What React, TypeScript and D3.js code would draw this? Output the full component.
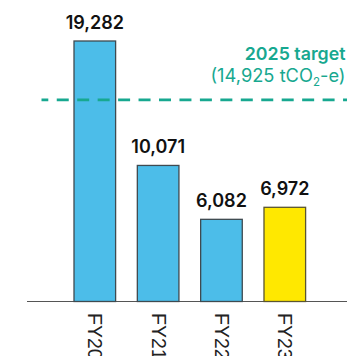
import React from "react";
import * as d3 from "d3";

const categories = ["FY20", "FY21", "FY22", "FY23"];
const values = [19282, 10071, 6082, 6972];
const highlight = ["FY23"];
const target = 14925;
const targetTitle = "2025 target";
const targetValueLabel = "14,925";

const W = 347;
const H = 356;
const baseline = 301.5;
const font = "Inter, 'Liberation Sans', Arial, sans-serif";
const axisFont = "'Liberation Sans', Arial, sans-serif";

export default function App() {
  const x = d3.scaleBand<string>().domain(categories).range([74, 305.6]).paddingInner(0.343).paddingOuter(0);
  const y = d3.scaleLinear().domain([0, 19282]).range([baseline, 41]);
  const fmt = d3.format(",");
  const teal = "#17a890";
  return (
    <svg width={W} height={H} style={{ position: "absolute", left: 0, top: 0 }}>
      <line x1={27} x2={W} y1={baseline} y2={baseline} stroke="#555" strokeWidth={1.2} />
      {categories.map((c, i) => {
        const isH = highlight.includes(c);
        const bx = x(c)!;
        return (
          <g key={c}>
            <rect
              x={bx}
              y={y(values[i])}
              width={x.bandwidth()}
              height={baseline - y(values[i])}
              fill={isH ? "#ffe800" : "#4cbde9"}
              stroke={isH ? "#5a5530" : "#3f4a50"}
              strokeWidth={1.3}
            />
            <text
              x={bx + x.bandwidth() / 2}
              y={y(values[i]) - 12.5}
              textAnchor="middle"
              fontFamily={font}
              fontWeight={600}
              fontSize={18}
              fill="#111"
            >
              {fmt(values[i])}
            </text>
            <text
              transform={`translate(${bx + x.bandwidth() / 2 - 6.5},${baseline + 11.5}) rotate(90)`}
              fontFamily={axisFont}
              fontSize={19.5}
              fill="#222"
            >
              {c}
            </text>
          </g>
        );
      })}
      <line
        x1={41.5}
        x2={W}
        y1={y(target)}
        y2={y(target)}
        stroke={teal}
        strokeWidth={2.7}
        strokeDasharray="12 8.45"
        strokeDashoffset={5.2}
      />
      <text x={345.5} y={60} textAnchor="end" fontFamily={font} fontWeight={600} fontSize={17.8} fill={teal}>
        {targetTitle}
      </text>
      <text x={345.5} y={82} textAnchor="end" fontFamily={font} fontSize={18.3} fill={teal}>
        ({targetValueLabel} tCO
        <tspan fontSize={11.5} dy={4}>2</tspan>
        <tspan dy={-4}>-e)</tspan>
      </text>
    </svg>
  );
}
